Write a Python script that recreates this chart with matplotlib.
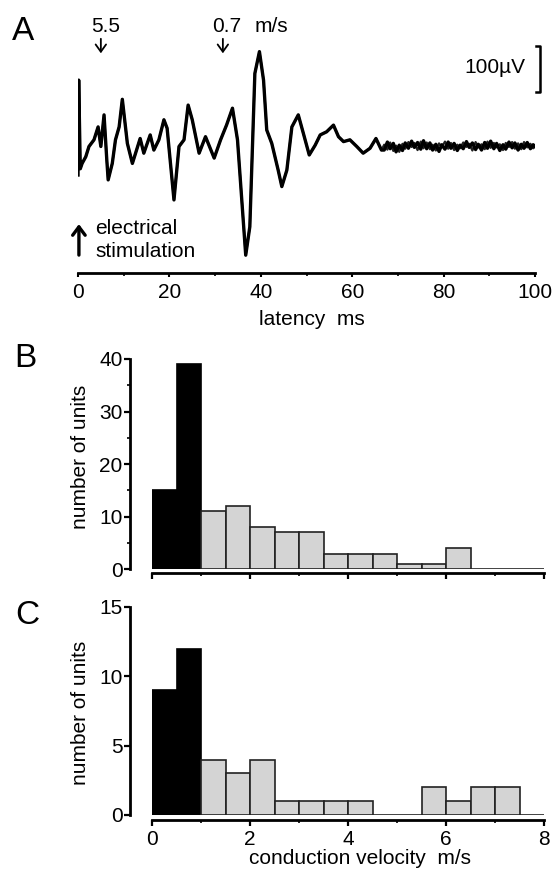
import numpy as np
import matplotlib.pyplot as plt
from matplotlib.ticker import MultipleLocator

# ---- A: evoked compound potential, latency (ms) vs amplitude (uV) ----
body_t = [0, 0.15, 0.5, 0.9, 1.7, 2.4, 3.5, 4.4, 5.0, 5.7, 6.3, 6.6, 7.5, 8.2, 9.0, 9.7,
          10.8, 11.9, 12.6, 13.6, 14.4, 15.8, 16.6, 17.7, 18.8, 19.5, 21.0, 22.1, 23.2,
          24.1, 25.0, 26.5, 27.9, 29.8, 31.2, 32.5, 33.8, 34.9, 36.7, 37.6, 38.7, 39.7,
          40.6, 41.3, 42.4, 43.8, 44.6, 45.7, 46.8, 48.2, 49.3, 50.6, 51.9, 53.0, 54.4,
          55.9, 57.0, 58.1, 59.5, 61.0, 62.4, 63.9, 65.2, 66.4]
body_v = [-64, 149, -50, -38, -23, 0, 15, 44, 0, 71, -30, -75, -38, 15, 44, 106,
          7, -38, -15, 18, -15, 26, -8, 15, 60, 41, -120, 0, 15,
          93, 60, -15, 22, -26, 15, 48, 86, 15, -244, -180, 164, 213,
          149, 37, 7, -53, -90, -53, 44, 71, 30, -19, 3, 26, 33,
          48, 22, 11, 15, 0, -15, -4, 18, -8]
tail_t = [67.0, 67.7, 68.3, 69.0, 69.6, 70.3, 71.0, 71.6, 72.3, 73.0, 73.6, 74.3, 75.0,
          75.6, 76.3, 77.0, 77.6, 78.3, 79.0, 79.6, 80.3, 81.0, 81.6, 82.3, 83.0, 83.6,
          84.3, 85.0, 85.6, 86.3, 87.0, 87.6, 88.3, 89.0, 89.6, 90.3, 91.0, 91.6, 92.3,
          93.0, 93.6, 94.3, 95.0, 95.6, 96.3, 97.0, 97.6, 98.3, 99.0, 99.6, 100.0]
tail_v1 = [-8, 10, -5, 7, -12, 3, -9, 8, -4, 12, -2, 9, -6,
           13, -5, 8, -8, 5, -11, 4, -6, 10, -4, 7, -9, 3,
           -5, 11, -2, 8, -7, 5, -8, 9, -4, 12, -5, 7, -9,
           4, -6, 10, -3, 8, -8, 5, -4, 9, -5, 4, 0]
tail_v2 = [4, -7, 9, -10, 2, -12, 6, -5, 10, -1, 8, -8, 11,
           -4, 9, -6, 4, -9, 7, -2, 11, -5, 8, -8, 4, -4,
           9, -1, 6, -9, 10, -2, 5, -6, 11, -3, 8, -2, 5,
           -8, 8, -1, 10, -5, 7, -6, 10, -2, 6, -4, 2]

# ---- B, C: conduction velocity histograms ----
bin_left = [0, 0.5, 1.0, 1.5, 2.0, 2.5, 3.0, 3.5, 4.0, 4.5, 5.0, 5.5, 6.0, 6.5, 7.0, 7.5]
units_b = [15, 39, 11, 12, 8, 7, 7, 3, 3, 3, 1, 1, 4, 0, 0, 0]
units_c = [9, 12, 4, 3, 4, 1, 1, 1, 1, 0, 0, 2, 1, 2, 2, 0]

W, H = 554, 869

def fx(px):
    return px / W

def fy(py):
    return 1 - py / H

plt.rcParams['font.family'] = ['Liberation Sans', 'DejaVu Sans']
plt.rcParams['font.size'] = 15

fig = plt.figure(figsize=(W / 100, H / 100), dpi=100)

''' A '''
axA = fig.add_axes([fx(78), fy(273), (535 - 78) / W, (273 - 20) / H])
axA.plot(body_t + tail_t, body_v + tail_v2, color='#222222', lw=1.6)
axA.plot(body_t + tail_t, body_v + tail_v1, color='k', lw=2.4)
axA.set_xlim(0, 100)
axA.set_ylim(-284, 284)
for s in ['left', 'right', 'top']:
    axA.spines[s].set_visible(False)
axA.spines['bottom'].set_linewidth(2.0)
axA.set_yticks([])
axA.xaxis.set_major_locator(MultipleLocator(20))
axA.xaxis.set_minor_locator(MultipleLocator(10))
axA.tick_params(axis='x', which='major', length=3, width=1.5, pad=4, labelsize=15)
axA.tick_params(axis='x', which='minor', length=2, width=1.2)

arr = dict(arrowstyle='->,head_length=0.35,head_width=0.25', lw=1.3, color='k')
axA.annotate('', xy=(5.0, 203), xytext=(5.0, 248), arrowprops=arr, annotation_clip=False)
axA.annotate('', xy=(31.7, 203), xytext=(31.7, 248), arrowprops=arr, annotation_clip=False)
axA.annotate('', xy=(0.2, -168), xytext=(0.2, -250),
             arrowprops=dict(arrowstyle='->,head_length=0.4,head_width=0.3', lw=2.4, color='k'),
             annotation_clip=False)
# scale bar 100 uV
axA.plot([100.3, 101.1, 101.1, 100.3], [226, 226, 123, 123], color='k', lw=1.8, clip_on=False)

fig.text(fx(106), fy(32), '5.5', ha='center', va='baseline')
fig.text(fx(227), fy(32), '0.7', ha='center', va='baseline')
fig.text(fx(271), fy(32), 'm/s', ha='center', va='baseline')
fig.text(fx(525), fy(73), '100µV', ha='right', va='baseline')
fig.text(fx(95), fy(234), 'electrical', ha='left', va='baseline')
fig.text(fx(95), fy(257), 'stimulation', ha='left', va='baseline')
fig.text(fx(312), fy(325), 'latency  ms', ha='center', va='baseline')


def hist_panel(ax, units, ymax, ymajor, yminor, labels):
    colors = ['k' if i < 2 else '#d4d4d4' for i in range(len(units))]
    edges = ['k' if i < 2 else '#222222' for i in range(len(units))]
    ax.bar(bin_left, units, width=0.5, align='edge', color=colors,
           edgecolor=edges, linewidth=1.2)
    ax.set_xlim(0, 8)
    ax.set_ylim(0, ymax)
    ax.spines['top'].set_visible(False)
    ax.spines['right'].set_visible(False)
    ax.spines['left'].set_position(('outward', 15.8))
    ax.spines['left'].set_bounds(0, ymax)
    ax.spines['left'].set_linewidth(2.0)
    ax.spines['bottom'].set_linewidth(2.0)
    ax.spines['bottom'].set_bounds(0, 8)
    ax.yaxis.set_major_locator(MultipleLocator(ymajor))
    if yminor:
        ax.yaxis.set_minor_locator(MultipleLocator(yminor))
    ax.xaxis.set_major_locator(MultipleLocator(2))
    ax.xaxis.set_minor_locator(MultipleLocator(1))
    ax.tick_params(which='major', length=4, width=1.6, labelsize=15)
    ax.tick_params(which='minor', length=2.5, width=1.2)
    ax.tick_params(axis='y', pad=1.5)
    ax.tick_params(axis='x', pad=3, labelbottom=labels)


''' B '''
axB = fig.add_axes([fx(152), fy(569.3), (544 - 152) / W, (569.3 - 359) / H])
hist_panel(axB, units_b, 40, 10, 5, False)
axB.spines['bottom'].set_position(('outward', 2.9))

''' C '''
axC = fig.add_axes([fx(152), fy(815), (544 - 152) / W, (815 - 607) / H])
hist_panel(axC, units_c, 15, 5, None, True)
axC.spines['bottom'].set_position(('outward', 3.6))

fig.text(fx(80), fy(457), 'number of units', rotation=90, ha='center', va='center')
fig.text(fx(80), fy(713), 'number of units', rotation=90, ha='center', va='center')
fig.text(fx(360), fy(864), 'conduction velocity  m/s', ha='center', va='baseline')

fig.text(fx(12), fy(40), 'A', fontsize=24, ha='left', va='baseline')
fig.text(fx(14), fy(367), 'B', fontsize=24, ha='left', va='baseline')
fig.text(fx(15), fy(624), 'C', fontsize=24, ha='left', va='baseline')

fig.savefig('out.png', dpi=100)
